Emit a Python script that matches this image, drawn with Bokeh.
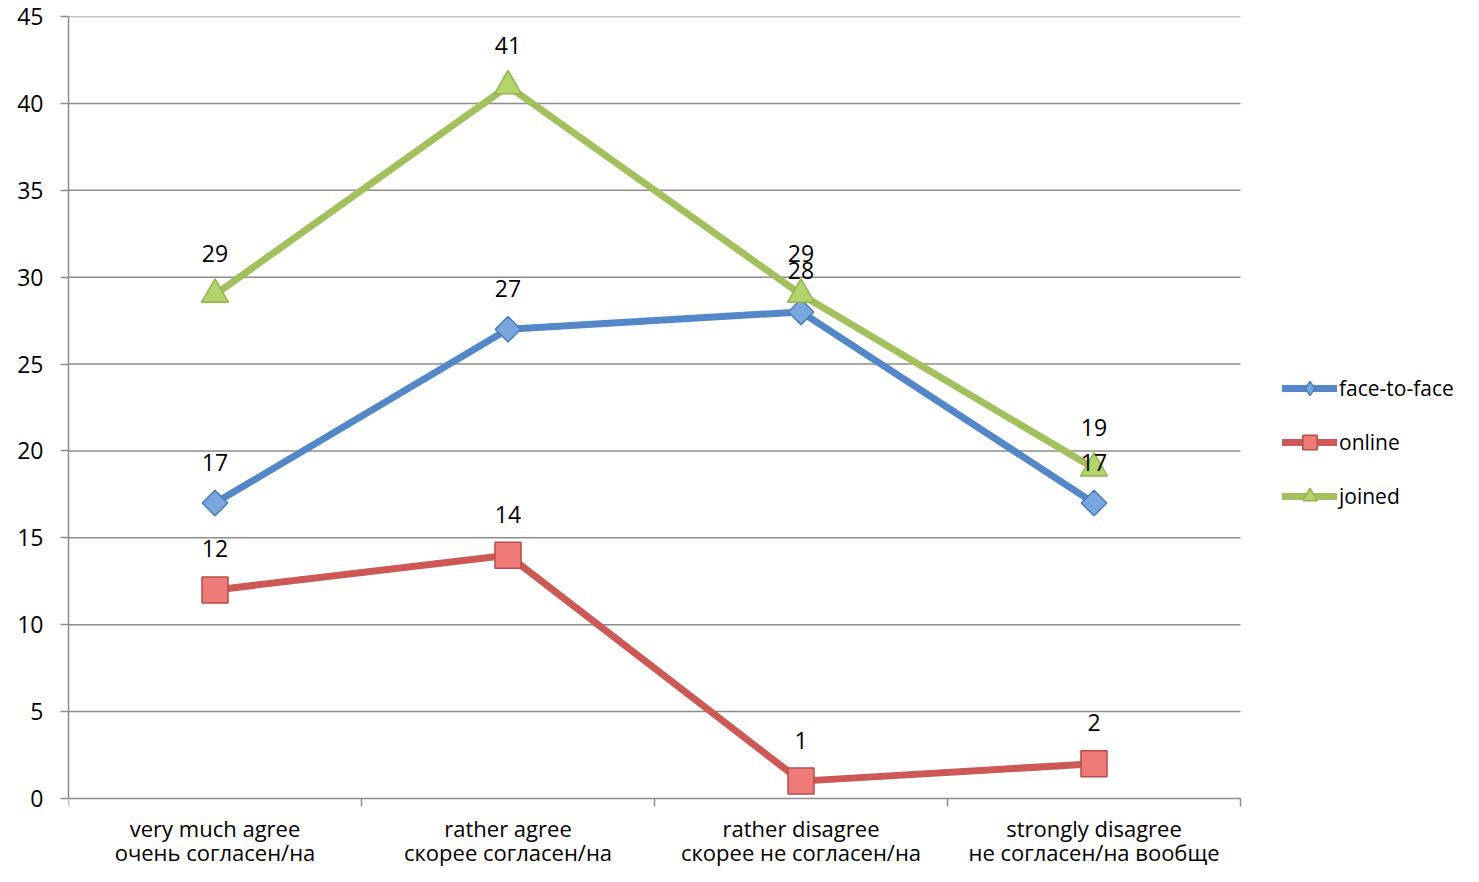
import math
from bokeh.plotting import figure
from bokeh.models import Range1d, FixedTicker, Legend, LegendItem, ColumnDataSource
from bokeh.embed import file_html
from bokeh.resources import INLINE
from bokeh.core.properties import value

categories_en = ["very much agree", "rather agree", "rather disagree", "strongly disagree"]
categories_ru = ["очень согласен/на", "скорее согласен/на", "скорее не согласен/на", "не согласен/на вообще"]
face_to_face = [17, 27, 28, 17]
online = [12, 14, 1, 2]
joined = [29, 41, 29, 19]
y_ticks = [0, 5, 10, 15, 20, 25, 30, 35, 40, 45]

FONT = "Open Sans"
GRID = "#8c8c8c"
n = len(categories_en)
xs = [i + 0.5 for i in range(n)]
bounds = list(range(n + 1))

# layout (pixels)
W, H = 1463, 866
LEFT, TOP = 68, 16
PLOT_W, PLOT_H = 1172, 782          # data area of the chart
ymax = y_ticks[-1]
px_per_y = PLOT_H / ymax
y_start = -(H - TOP - PLOT_H) / px_per_y
x_end = n * (W - LEFT) / PLOT_W

p = figure(width=W, height=H, output_backend="svg", toolbar_location=None,
           x_range=Range1d(0, x_end), y_range=Range1d(y_start, ymax),
           x_axis_location=None,
           min_border_left=LEFT, min_border_right=0, min_border_top=TOP, min_border_bottom=0)
p.outline_line_color = None
p.xgrid.visible = False
p.ygrid.visible = False

ya = p.yaxis[0]
ya.ticker = FixedTicker(ticks=y_ticks)
ya.bounds = (0, ymax)
ya.axis_line_color = GRID
ya.axis_line_width = 1.5
ya.major_tick_line_color = GRID
ya.major_tick_line_width = 1.5
ya.major_tick_out = 8
ya.major_tick_in = 0
ya.minor_tick_line_color = None
ya.major_label_standoff = 17
ya.major_label_text_font = FONT
ya.major_label_text_font_size = "23px"
ya.major_label_text_color = "black"

# horizontal grid lines (the one at 0 doubles as the category axis line)
p.segment(x0=[0] * len(y_ticks), x1=[n] * len(y_ticks), y0=y_ticks, y1=y_ticks,
          line_color=GRID, line_width=1.5)
# category boundary ticks
p.segment(x0=bounds, x1=bounds, y0=[0] * len(bounds), y1=[-8 / px_per_y] * len(bounds),
          line_color=GRID, line_width=1.5)
# category labels
p.text(x=xs, y=[0] * n, text=categories_en, y_offset=29, text_align="center", text_baseline="middle",
       text_font=value(FONT), text_font_size="22px", text_color="black")
p.text(x=xs, y=[0] * n, text=categories_ru, y_offset=53, text_align="center", text_baseline="middle",
       text_font=value(FONT), text_font_size="22px", text_color="black")

series = [
    ("face-to-face", face_to_face, "#5387c7", "square", math.pi / 4, "diamond", "#7aa6de", "#4a7cba", 18),
    ("online", online, "#cc5955", "square", 0, None, "#ee7b77", "#b54c48", 26),
    ("joined", joined, "#a2c15c", "triangle", 0, None, "#b3d46c", "#93b44f", 27),
]

items = []
for name, vals, lc, marker, ang, lmarker, fc, oc, sz in series:
    src = ColumnDataSource(dict(x=xs, y=vals))
    lr = p.line("x", "y", source=src, line_color=lc, line_width=7, line_join="round", line_cap="round")
    proxy = None
    if lmarker is not None:
        # legend marker, drawn underneath (hidden by) the real rotated marker
        proxy = p.scatter("x", "y", source=src, marker=lmarker, size=sz,
                          fill_color=fc, line_color=oc, line_width=1.5)
    mr = p.scatter("x", "y", source=src, marker=marker, angle=ang, size=sz,
                   fill_color=fc, line_color=oc, line_width=1.5)
    items.append(LegendItem(label=name, renderers=[lr, proxy if proxy is not None else mr]))

for name, vals, lc, marker, ang, lmarker, fc, oc, sz in series:
    src = ColumnDataSource(dict(x=xs, y=vals, lab=[str(v) for v in vals]))
    p.text("x", "y", text="lab", source=src, y_offset=-41, text_align="center", text_baseline="middle",
           text_font=value(FONT), text_font_size="23px", text_color="black")

legend = Legend(items=items, location=(1214, 352), margin=0, padding=0, border_line_color=None,
                background_fill_alpha=0, glyph_width=55, glyph_height=36, label_height=36,
                spacing=18, label_standoff=2, label_text_font=FONT, label_text_font_size="21px",
                label_text_color="black")
p.add_layout(legend, "center")

open("out.html", "w").write(file_html(p, INLINE))
